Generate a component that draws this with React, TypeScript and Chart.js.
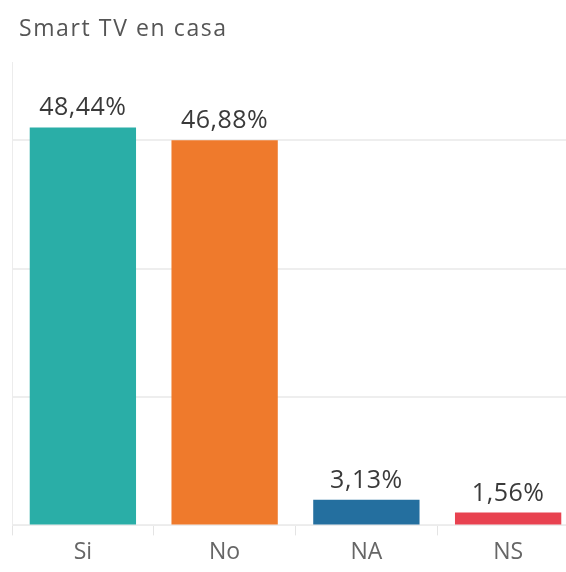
import React, { useEffect, useRef } from "react";
import { Chart, registerables } from "chart.js";

Chart.register(...registerables);

const TITLE = "Smart TV en casa";
const categories = ["Si", "No", "NA", "NS"];
const percentValues = [48.44, 46.88, 3.13, 1.56];
const barColors = ["#2aaea7", "#ef7a2c", "#246f9f", "#e84250"];
const gridTicks = [0, 15.625, 31.25, 46.875];
const FONT = "'Open Sans', sans-serif";

const fmt = (v: number) => v.toFixed(2).replace(".", ",") + "%";

const overlayPlugin = {
  id: "overlay",
  afterDatasetsDraw(chart: any) {
    const ctx = chart.ctx;
    const meta = chart.getDatasetMeta(0);
    ctx.save();
    ctx.font = `25px ${FONT}`;
    ctx.fillStyle = "#3a3a3a";
    ctx.textAlign = "center";
    ctx.textBaseline = "alphabetic";
    (ctx as any).letterSpacing = "0.5px";
    meta.data.forEach((bar: any, i: number) => {
      ctx.fillText(fmt(percentValues[i]), bar.x, bar.y - 12);
    });
    ctx.font = `23px ${FONT}`;
    ctx.fillStyle = "#555555";
    ctx.textAlign = "left";
    (ctx as any).letterSpacing = "1.6px";
    ctx.fillText(TITLE, 19, 36);
    ctx.restore();
  },
};

export default function App() {
  const ref = useRef<HTMLCanvasElement>(null);
  useEffect(() => {
    if (!ref.current) return;
    const chart = new Chart(ref.current, {
      type: "bar",
      data: {
        labels: categories,
        datasets: [
          {
            data: percentValues,
            backgroundColor: barColors,
            borderWidth: 0,
            categoryPercentage: 1,
            barPercentage: 0.75,
          },
        ],
      },
      options: {
        animation: false,
        responsive: false,
        maintainAspectRatio: false,
        events: [],
        layout: { padding: { top: 62, left: 12, right: 1, bottom: 3 } },
        plugins: {
          legend: { display: false },
          tooltip: { enabled: false },
          title: { display: false },
        },
        scales: {
          x: {
            grid: {
              offset: true,
              drawOnChartArea: false,
              drawTicks: true,
              tickLength: 10,
              color: "#e4e4e4",
              lineWidth: 1,
            },
            border: { display: true, color: "#ececec", width: 1 },
            ticks: {
              color: "#666666",
              font: { family: FONT, size: 23 },
              padding: 3,
            },
          },
          y: {
            min: 0,
            max: 56.4,
            afterBuildTicks: (scale: any) => {
              scale.ticks = gridTicks.map((v) => ({ value: v }));
            },
            ticks: { display: false },
            grid: {
              drawTicks: false,
              color: "#eeeeee",
              lineWidth: 2,
            },
            border: { display: true, color: "#ececec", width: 1 },
          },
        },
      },
      plugins: [overlayPlugin],
    });
    return () => chart.destroy();
  }, []);
  return (
    <div
      style={{
        position: "fixed",
        left: 0,
        top: 0,
        width: 566,
        height: 572,
        overflow: "hidden",
        background: "#ffffff",
      }}
    >
      <canvas ref={ref} width={580} height={572} style={{ display: "block" }} />
    </div>
  );
}
